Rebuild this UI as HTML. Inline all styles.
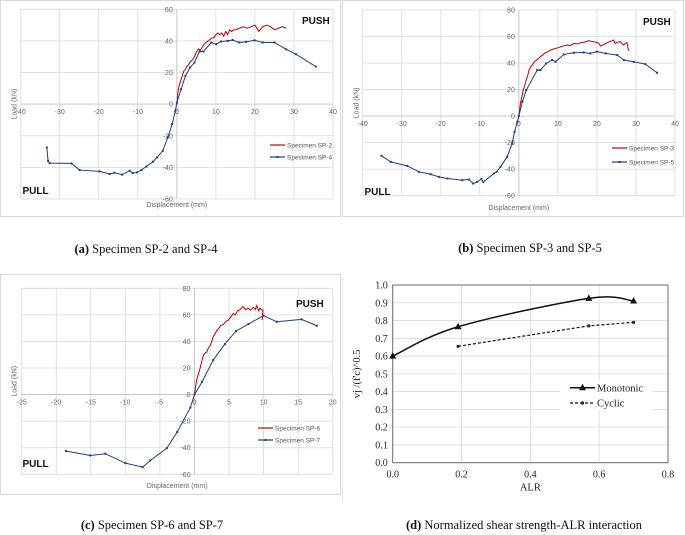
<!DOCTYPE html>
<html><head><meta charset="utf-8">
<style>
html,body{margin:0;padding:0;background:#fff;}
#wrap{position:relative;width:685px;height:535px;overflow:hidden;}
svg{position:absolute;left:0;top:0;}
.cap{position:absolute;font-family:"Liberation Serif",serif;font-size:12.5px;line-height:14px;color:#111;white-space:nowrap;transform:translateX(-50%);}
</style></head>
<body>
<div id="wrap">
<svg id="fig" width="685" height="535"></svg>
<div class="cap" style="left:146px;top:242px"><b>(a)</b> Specimen SP-2 and SP-4</div>
<div class="cap" style="left:530px;top:241px"><b>(b)</b> Specimen SP-3 and SP-5</div>
<div class="cap" style="left:152px;top:518px"><b>(c)</b> Specimen SP-6 and SP-7</div>
<div class="cap" style="left:524px;top:518px"><b>(d)</b> Normalized shear strength-ALR interaction</div>
</div>
<script>
// Panel (a)
const aRedX=[0,0.3,0.6,1,1.4,1.8,2.2,2.6,3,3.5,4,4.5,5,5.5,6,6.5,7,7.5,8,8.5,9,9.5,10,10.5,11,11.5,12,12.5,13,13.5,14,14.5,15,16,17,18,19,20,20.5,21,22,23,24,25,26,27,28];
const aRedY=[0,8,12,15,18,21,22,24,25,27,28,30,33,35,34,36,38,39,40,41,42,42,44,45,44,45,43,46,44,47,46,47,47,48,49,48,49,50,48,46,49,50,49,47,48,49,48];
const aBlueX=[-33.3,-33,-32.6,-27,-24.9,-19.8,-17.2,-16,-14,-12.1,-11.3,-10.2,-9.1,-7.8,-6.1,-5.1,-3.6,-2.3,-1.2,-0.4,0,1.1,2.2,3.4,4.5,5.8,6.8,8.8,10.1,11.3,13,14.3,16,17.7,19.9,22,25,28,30.5,35.6];
const aBlueY=[-27.4,-35.8,-37.3,-37.5,-41.7,-42.5,-44.2,-43.4,-44.6,-42.1,-43.6,-43.2,-41.7,-39.4,-36.4,-33.7,-29.5,-21,-12.6,-4.2,1,9.5,17.9,23.2,26.3,33.3,33.3,39,37.9,39.6,40,40.6,39,39.4,40.4,39,39,34.7,31.6,23.8];
const aXTicks=[-40,-30,-20,-10,0,10,20,30,40];
const aYTicks=[-60,-40,-20,0,20,40,60];
// Panel (b)
const bRedX=[0,0.4,0.8,1.1,1.5,1.9,2.3,2.6,3,3.4,4,4.7,5.1,5.5,6.2,6.8,7.4,8.1,8.8,9.4,10,10.7,11.5,12.4,13.2,14.1,15,15.8,17,17.9,18.6,19.2,20,20.5,20.9,21.8,22.6,23.5,24.3,24.7,25.3,26,26.5,26.9,27.3,27.7,28.1];
const bRedY=[0,9.6,15,19.6,23,27.2,31,34.7,37,38.5,41,42.8,43.5,44.8,46.5,47.8,48.5,49.8,50.5,51.1,51.5,52.3,53,53.6,53.2,54.8,54.5,55.3,56,56.9,56.3,56.1,55.5,54.8,52.8,54,55.3,56.5,57.4,54.8,55.8,56.1,54.5,53.6,55,55.3,49.3];
const bBlueX=[-35.2,-32.8,-28.6,-25.6,-22.6,-20.5,-18.3,-14.5,-12.8,-11.7,-10.7,-9.6,-9.1,-6.4,-5.7,-4.7,-3,-1.7,-1.1,-0.4,0,0.9,1.9,4.7,5.5,7,8.5,9.4,11.5,14.1,16.6,18.3,20,22.2,25.2,26.9,29.4,32.4,35.4];
const bBlueY=[-29.9,-34.5,-37.5,-42,-43.8,-45.8,-47,-48.3,-47.8,-50.8,-49.6,-47.5,-49.6,-43.3,-42,-38.2,-30.7,-20.6,-11.8,-4.3,0,10.8,19.6,34.7,34.7,39.7,42.3,41,46.5,47.8,48,47.3,48.6,47.3,46,42.3,41,39.2,32.7];
const bXTicks=[-40,-30,-20,-10,0,10,20,30,40];
const bYTicks=[-60,-40,-20,0,20,40,60,80];
// Panel (c)
const cRedX=[0,0.3,0.6,0.8,1.1,1.3,1.5,1.8,2,2.3,2.5,2.7,3,3.2,3.5,3.8,4.2,4.5,4.9,5.2,5.6,5.9,6.2,6.6,7,7.4,7.8,8.1,8.5,8.8,9,9.3,9.5,9.7,9.9,9.8];
const cRedY=[0,10.8,16,19.6,26,29.7,31,32.2,35,37.2,40,43.5,46,48,49.8,52,52.8,55,56.1,58,61.1,60,62.9,64,66.2,64,64.9,63.5,65.7,64,67,63,65,64,63.6,56.1];
const cBlueX=[-18.6,-15.1,-12.9,-10,-7.5,-6.4,-4,-2.5,-0.6,0,1.1,2.7,4.4,6,7.8,10,11.9,15.5,17.7];
const cBlueY=[-42.5,-45.8,-44.5,-51.6,-54.6,-49.6,-40.3,-28.2,-9.8,0,9.6,25.9,38,47.8,53.1,59.4,54.8,56.6,51.8];
const cXTicks=[-25,-20,-15,-10,-5,0,5,10,15,20];
const cYTicks=[-60,-40,-20,0,20,40,60,80];
// Panel (d)
const dMonoX=[0,0.19,0.57,0.70];
const dMonoY=[0.60,0.765,0.925,0.91];
const dCycX=[0.19,0.57,0.70];
const dCycY=[0.655,0.77,0.79];
const dXTicks=[0,0.2,0.4,0.6,0.8];
const dYTicks=[0,0.1,0.2,0.3,0.4,0.5,0.6,0.7,0.8,0.9,1.0];

const NS="http://www.w3.org/2000/svg";
const svg=document.getElementById('fig');
function el(tag,attrs,parent){const e=document.createElementNS(NS,tag);for(const k in attrs)e.setAttribute(k,attrs[k]);(parent||svg).appendChild(e);return e;}
function txt(s,attrs,parent){const t=el('text',attrs,parent);t.textContent=s;return t;}

function hyst(P){
  const g=el('g',{});
  
  
  const fr=el('rect',{x:P.fx,y:P.fy,width:P.fw,height:P.fh,fill:'#fff',stroke:'#d9d9d9','stroke-width':1},g);
  
  
  const sx=v=>P.x0+(v-P.xmin)/(P.xmax-P.xmin)*(P.x1-P.x0);
  const sy=v=>P.y1-(v-P.ymin)/(P.ymax-P.ymin)*(P.y1-P.y0);
  P.xt.forEach(v=>{const l=el('line',{x1:sx(v),x2:sx(v),y1:P.y0,y2:P.y1,stroke:'#d9d9d9','stroke-width':0.8},g);
    });
  P.yt.forEach(v=>{const l=el('line',{x1:P.x0,x2:P.x1,y1:sy(v),y2:sy(v),stroke:'#d9d9d9','stroke-width':0.8},g);
    });
  el('line',{x1:P.x0,x2:P.x1,y1:sy(0),y2:sy(0),stroke:'#bfbfbf','stroke-width':0.8},g);
  el('line',{x1:sx(0),x2:sx(0),y1:P.y0,y2:P.y1,stroke:'#bfbfbf','stroke-width':0.8},g);
  P.xt.forEach(v=>{const t=txt(String(v),{x:sx(v),y:sy(0)+10,'font-size':7,fill:'#666','text-anchor':'middle','font-family':'Liberation Sans,sans-serif'},g);
    });
  P.yt.forEach(v=>{const t=txt(String(v),{x:sx(0)-4,y:sy(v)+2.5,'font-size':7,fill:'#666','text-anchor':'end','font-family':'Liberation Sans,sans-serif'},g);
    });
  const yt=txt('Load (kN)',{x:0,y:0,'font-size':7,fill:'#666','text-anchor':'middle','font-family':'Liberation Sans,sans-serif',transform:`translate(${P.fx+16},${(P.y0+P.y1)/2}) rotate(-90)`},g);
  
  const xt=txt('Displacement (mm)',{x:(P.x0+P.x1)/2,y:P.xtY,'font-size':7,fill:'#666','text-anchor':'middle','font-family':'Liberation Sans,sans-serif'},g);
  
  const pu=txt('PUSH',{x:P.pushX,y:P.pushY,'font-size':10,'font-weight':'bold',fill:'#111','font-family':'Liberation Sans,sans-serif'},g);
  
  const pl=txt('PULL',{x:P.fx+22,y:P.pullY,'font-size':10,'font-weight':'bold',fill:'#111','font-family':'Liberation Sans,sans-serif'},g);
  
  const red=el('polyline',{points:P.rx.map((v,i)=>sx(v)+','+sy(P.ry[i])).join(' '),fill:'none',stroke:'#c00000','stroke-width':1},g);
  
  const blue=el('polyline',{points:P.bx.map((v,i)=>sx(v)+','+sy(P.by[i])).join(' '),fill:'none',stroke:'#203f7a','stroke-width':1},g);
  
  P.bx.forEach((v,i)=>{const m=el('rect',{x:sx(v)-1,y:sy(P.by[i])-1,width:2,height:2,fill:'#203f7a'},g);
    });
  const lg=el('g',{},g);
  
  el('line',{x1:P.lgX,x2:P.lgX+15,y1:P.lgY,y2:P.lgY,stroke:'#c00000','stroke-width':1.2},lg);
  txt('Specimen '+P.redName,{x:P.lgX+17,y:P.lgY+2.5,'font-size':6.5,fill:'#555','font-family':'Liberation Sans,sans-serif'},lg);
  el('line',{x1:P.lgX,x2:P.lgX+15,y1:P.lgY+P.lgD,y2:P.lgY+P.lgD,stroke:'#203f7a','stroke-width':1.2},lg);
  el('rect',{x:P.lgX+6.5,y:P.lgY+P.lgD-1,width:2,height:2,fill:'#203f7a'},lg);
  txt('Specimen '+P.blueName,{x:P.lgX+17,y:P.lgY+P.lgD+2.5,'font-size':6.5,fill:'#555','font-family':'Liberation Sans,sans-serif'},lg);
}

hyst({name:'chart-a',fx:0.5,fy:0.5,fw:340,fh:216,x0:20.7,x1:333,y0:9.3,y1:199,xmin:-40,xmax:40,ymin:-60,ymax:60,xt:aXTicks,yt:aYTicks,
  xtY:207,pushX:302,pushY:24,pullY:194,rx:aRedX,ry:aRedY,bx:aBlueX,by:aBlueY,redName:'SP-2',blueName:'SP-4',lgX:270,lgY:145,lgD:12});
hyst({name:'chart-b',fx:342.5,fy:0.5,fw:341,fh:216,x0:362.7,x1:675,y0:10,y1:195.7,xmin:-40,xmax:40,ymin:-60,ymax:80,xt:bXTicks,yt:bYTicks,
  xtY:210,pushX:643,pushY:25,pullY:195,rx:bRedX,ry:bRedY,bx:bBlueX,by:bBlueY,redName:'SP-3',blueName:'SP-5',lgX:612,lgY:148,lgD:14});
hyst({name:'chart-c',fx:0.5,fy:274.5,fw:340,fh:220,x0:21.7,x1:332.7,y0:288.3,y1:474.3,xmin:-25,xmax:20,ymin:-60,ymax:80,xt:cXTicks,yt:cYTicks,
  xtY:488,pushX:296,pushY:307,pullY:467,rx:cRedX,ry:cRedY,bx:cBlueX,by:cBlueY,redName:'SP-6',blueName:'SP-7',lgX:258,lgY:428,lgD:12});

// Panel (d)
(function(){
  const g=el('g',{});
  
  
  const X0=392.7,X1=668,Y0=285,Y1=462.7;
  const sx=v=>X0+v/0.8*(X1-X0);
  const sy=v=>Y1-v/1.0*(Y1-Y0);
  const fr=el('line',{x1:342.5,x2:342.5,y1:278,y2:500,stroke:'#e6e6e6','stroke-width':1},g);
  
  dXTicks.forEach(v=>{const l=el('line',{x1:sx(v),x2:sx(v),y1:Y0,y2:Y1,stroke:'#d9d9d9','stroke-width':0.8},g);
    
    const t=txt(v.toFixed(1),{x:sx(v),y:Y1+15,'font-size':10,fill:'#222','text-anchor':'middle','font-family':'Liberation Serif,serif'},g);
    });
  dYTicks.forEach(v=>{const l=el('line',{x1:X0,x2:X1,y1:sy(v),y2:sy(v),stroke:'#d9d9d9','stroke-width':0.8},g);
    
    const t=txt(v.toFixed(1),{x:X0-5,y:sy(v)+3.5,'font-size':10,fill:'#222','text-anchor':'end','font-family':'Liberation Serif,serif'},g);
    });
  const pb=el('rect',{x:X0,y:Y0,width:X1-X0,height:Y1-Y0,fill:'none',stroke:'#6b6b6b','stroke-width':1},g);
  
  const xt=txt('ALR',{x:(X0+X1)/2,y:Y1+28,'font-size':10.5,fill:'#222','text-anchor':'middle','font-family':'Liberation Serif,serif'},g);
  
  const yt=txt("vj /(f'c)^0.5",{x:0,y:0,'font-size':10.5,fill:'#222','text-anchor':'middle','font-family':'Liberation Serif,serif',transform:`translate(360,${(Y0+Y1)/2}) rotate(-90)`},g);
  
  const pts=dMonoX.map((v,i)=>[sx(v),sy(dMonoY[i])]);
  let d='M'+pts[0][0]+','+pts[0][1];
  for(let i=0;i<pts.length-1;i++){
    const p0=pts[Math.max(0,i-1)],p1=pts[i],p2=pts[i+1],p3=pts[Math.min(pts.length-1,i+2)];
    const c1=[p1[0]+(p2[0]-p0[0])/6,p1[1]+(p2[1]-p0[1])/6];
    const c2=[p2[0]-(p3[0]-p1[0])/6,p2[1]-(p3[1]-p1[1])/6];
    d+=` C${c1[0]},${c1[1]} ${c2[0]},${c2[1]} ${p2[0]},${p2[1]}`;
  }
  const mono=el('path',{d:d,fill:'none',stroke:'#111','stroke-width':1.5},g);
  
  pts.forEach(p=>{const m=el('polygon',{points:`${p[0]},${p[1]-4} ${p[0]-3.5},${p[1]+2.5} ${p[0]+3.5},${p[1]+2.5}`,fill:'#111'},g);
    });
  const cyc=el('polyline',{points:dCycX.map((v,i)=>sx(v)+','+sy(dCycY[i])).join(' '),fill:'none',stroke:'#111','stroke-width':1.2,'stroke-dasharray':'3,2'},g);
  
  dCycX.forEach((v,i)=>{const m=el('circle',{cx:sx(v),cy:sy(dCycY[i]),r:1.6,fill:'#222'},g);
    });
  const lg=el('g',{},g);
  
  el('rect',{x:560,y:381,width:92,height:29,fill:'#fff'},lg);
  el('line',{x1:570,x2:595,y1:387.7,y2:387.7,stroke:'#111','stroke-width':1.5},lg);
  el('polygon',{points:'582.5,383.7 579,390.2 586,390.2',fill:'#111'},lg);
  txt('Monotonic',{x:597,y:391.5,'font-size':10.5,fill:'#222','font-family':'Liberation Serif,serif'},lg);
  el('line',{x1:570,x2:595,y1:403,y2:403,stroke:'#111','stroke-width':1.2,'stroke-dasharray':'3,2'},lg);
  el('circle',{cx:582.5,cy:403,r:1.6,fill:'#222'},lg);
  txt('Cyclic',{x:597,y:406.5,'font-size':10.5,fill:'#222','font-family':'Liberation Serif,serif'},lg);
})();
</script>
</body></html>
